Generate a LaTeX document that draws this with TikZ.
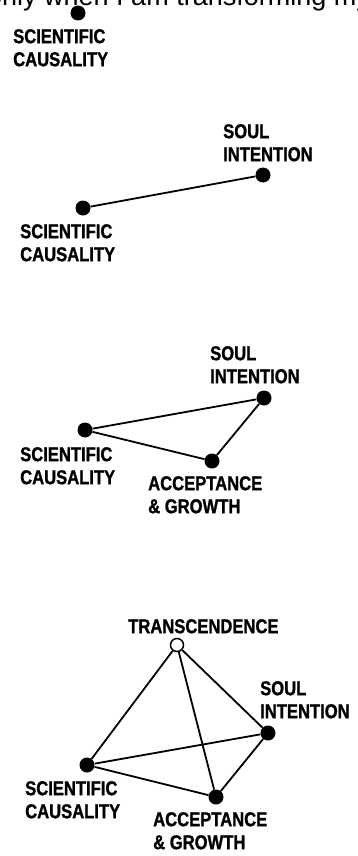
\documentclass[tikz,border=0pt]{standalone}
\usepackage{fontspec}
\setmainfont{Liberation Sans}
\newfontfamily\labelfont{Liberation Sans}[FakeStretch=0.83,FakeBold=1.2]

\tikzset{
  blob/.style={circle,fill=black,inner sep=0pt,minimum size=15pt},
  openblob/.style={circle,draw=black,fill=white,line width=1.5pt,inner sep=0pt,minimum size=13pt},
  lbl/.style={anchor=north west,align=left,inner sep=0pt,font=\fontsize{20}{23}\labelfont\bfseries},
  link/.style={line width=1.8pt},
}

\begin{document}
\begin{tikzpicture}[x=1pt,y=-1pt]
\useasboundingbox (0,0) rectangle (358,856);
\clip (0,0) rectangle (358,856);
\node[anchor=base west,inner sep=0pt,font=\fontsize{27}{30}\selectfont] (head) at (-13,6) {only when I am transforming my};

% one point
\node[blob] (sc1) at (78,13) {};
\node[lbl] (sc1l) at (13,29) {SCIENTIFIC\\CAUSALITY};

% two points
\node[blob] (sc2) at (83,208) {};
\node[blob] (si2) at (263,175) {};
\draw[link] (sc2) -- (si2);
\node[lbl] (si2l) at (223,124) {SOUL\\INTENTION};
\node[lbl] (sc2l) at (20,224) {SCIENTIFIC\\CAUSALITY};

% three points
\node[blob] (sc3) at (85,430) {};
\node[blob] (si3) at (264,398) {};
\node[blob] (ag3) at (212,461) {};
\draw[link] (sc3) -- (si3) -- (ag3) -- (sc3);
\node[lbl] (si3l) at (210,346) {SOUL\\INTENTION};
\node[lbl] (sc3l) at (20,447) {SCIENTIFIC\\CAUSALITY};
\node[lbl] (ag3l) at (148,476) {ACCEPTANCE\\\& GROWTH};

% four points
\node[openblob] (tr4) at (177,645) {};
\node[blob] (si4) at (268,733) {};
\node[blob] (sc4) at (87,765) {};
\node[blob] (ag4) at (216,797) {};
\draw[link] (sc4) -- (si4) -- (ag4) -- (sc4);
\draw[link] (tr4) -- (sc4);
\draw[link] (tr4) -- (si4);
\draw[link] (tr4) -- (ag4);
\node[lbl] (tr4l) at (128,619) {TRANSCENDENCE};
\node[lbl] (si4l) at (260,681) {SOUL\\INTENTION};
\node[lbl] (sc4l) at (25,781) {SCIENTIFIC\\CAUSALITY};
\node[lbl] (ag4l) at (153,812) {ACCEPTANCE\\\& GROWTH};
\end{tikzpicture}
\end{document}
